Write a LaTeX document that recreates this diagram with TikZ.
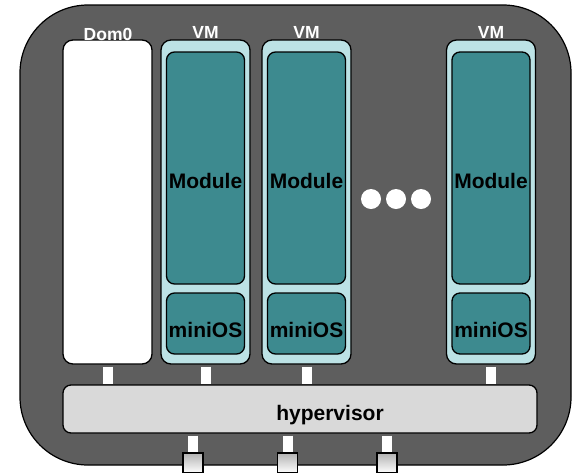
\documentclass[tikz,border=0pt]{standalone}
\usepackage{fontspec}
\setmainfont{Liberation Sans}
\definecolor{hostgray}{HTML}{5E5E5E}
\definecolor{vmcyan}{HTML}{BCE2E5}
\definecolor{modteal}{HTML}{3D8A8F}
\definecolor{hypgray}{HTML}{D9D9D9}
\begin{document}
\begin{tikzpicture}
  [x=1pt,y=-1pt,every node/.style={inner sep=0pt,font=\bfseries}]
  \tikzstyle{host} = [draw=black,line width=1.2pt,fill=hostgray,rounded corners=68pt,minimum width=551pt,minimum height=460pt]
  \tikzstyle{dombox} = [draw=black,line width=1.3pt,rounded corners=10pt,minimum width=89pt,minimum height=324pt]
  \tikzstyle{inbox} = [draw=black,line width=1.3pt,fill=modteal,rounded corners=8pt,minimum width=78pt]
  \tikzstyle{toplabel} = [text=white,font=\fontsize{17.5}{20}\bfseries]
  \tikzstyle{boxtext} = [font=\fontsize{21}{24}\bfseries]
  \tikzstyle{link} = [white,line width=10pt,shorten <=2pt,shorten >=0.7pt]
  \tikzstyle{port} = [draw=black,line width=1.3pt,top color=black!30,bottom color=white,minimum size=20pt]
  \useasboundingbox (0,0) rectangle (572,472);
  \node[host] (host) at (295.5,235) {};

  \node[dombox,fill=white] (dom) at (107.5,202) {};
  \node[toplabel] (domlbl) at (108,34.5) {Dom0};
  \foreach \n/\x in {1/205.5,2/306.5,3/491} {
    \node[dombox,fill=vmcyan] (vm\n) at (\x,202) {};
    \node[toplabel] (vmlbl\n) at (\x,32) {VM};
    \node[inbox,minimum height=232pt,label={[boxtext,yshift=-13pt]center:Module}] (mod\n) at (\x,168) {};
    \node[inbox,minimum height=61pt,label={[boxtext,yshift=-6pt]center:miniOS}] (os\n) at (\x,323.5) {};
  }
  \foreach \n/\x in {1/371,2/396,3/421}
    \node[circle,fill=white,minimum size=20pt] (dot\n) at (\x,199) {};

  \node[draw=black,line width=1.3pt,fill=hypgray,rounded corners=8pt,minimum width=474pt,minimum height=48pt,
        label={[boxtext,xshift=30pt,yshift=-6pt]center:hypervisor}] (hyp) at (300,409) {};
  \foreach \n/\x in {1/193,2/287.5,3/387}
    \node[port] (port\n) at (\x,463) {};

\foreach \src in {dom,vm1,vm2,vm3}
   \draw[link] (\src.south) -- (\src.south |- hyp.north);
\foreach \n in {1,2,3}
   \draw[link] (port\n.north |- hyp.south) -- (port\n.north);

  \end{tikzpicture}
\end{document}
